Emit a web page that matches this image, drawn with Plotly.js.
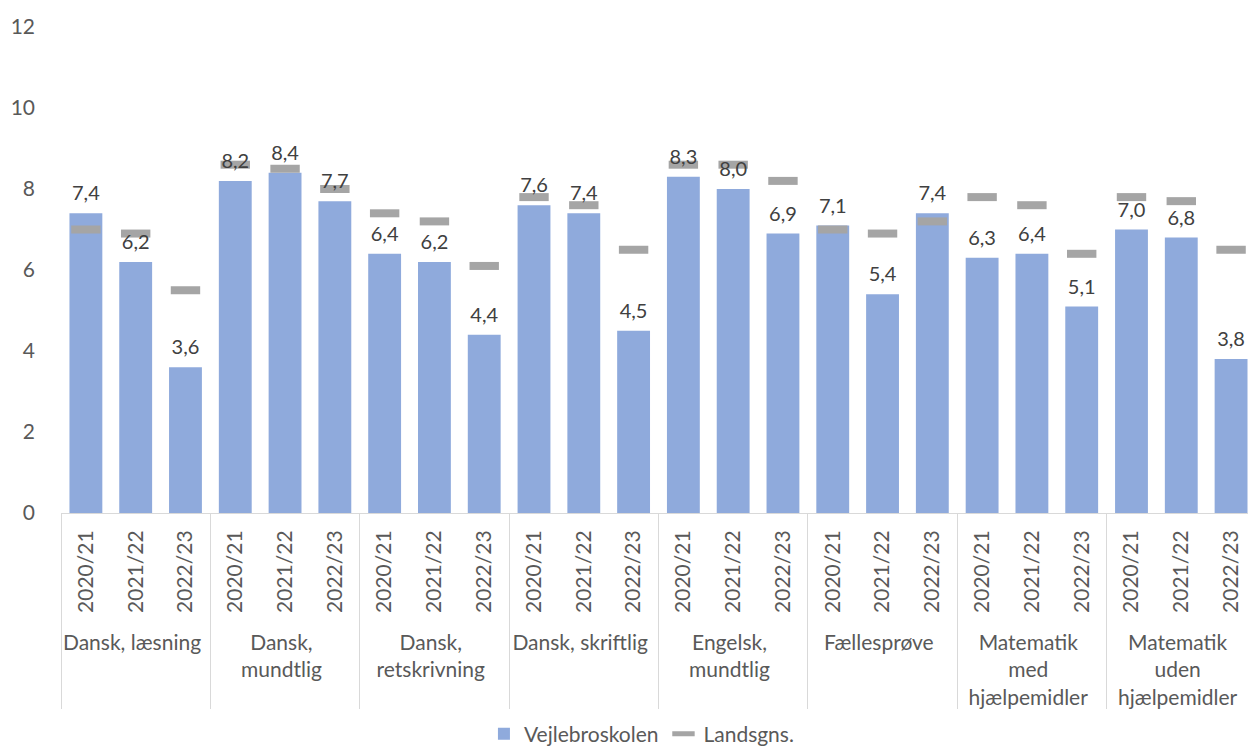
<!DOCTYPE html>
<html>
<head>
<meta charset="utf-8">
<script src="https://cdn.plot.ly/plotly-3.0.1.min.js"></script>
<style>
  html, body { margin: 0; padding: 0; overflow: hidden; background: #fff; }
  #chart { width: 1248px; height: 747px; }
</style>
</head>
<body>
<div id="chart"></div>
<script>
// ---- Data ----
const subjects = [
  "Dansk, læsning",
  "Dansk,<br>mundtlig",
  "Dansk,<br>retskrivning",
  "Dansk, skriftlig",
  "Engelsk,<br>mundtlig",
  "Fællesprøve",
  "Matematik<br>med<br>hjælpemidler",
  "Matematik<br>uden<br>hjælpemidler"
];
const years = ["2020/21", "2021/22", "2022/23"];

// Vejlebroskolen (bars), per subject x year
const vejlebroskolen = [
  7.4, 6.2, 3.6,
  8.2, 8.4, 7.7,
  6.4, 6.2, 4.4,
  7.6, 7.4, 4.5,
  8.3, 8.0, 6.9,
  7.1, 5.4, 7.4,
  6.3, 6.4, 5.1,
  7.0, 6.8, 3.8
];

// Landsgennemsnit (grey dash markers)
const landsgns = [
  7.0, 6.9, 5.5,
  8.6, 8.5, 8.0,
  7.4, 7.2, 6.1,
  7.8, 7.6, 6.5,
  8.6, 8.6, 8.2,
  7.0, 6.9, 7.2,
  7.8, 7.6, 6.4,
  7.8, 7.7, 6.5
];

// ---- Build multicategory x ----
const NB = '\u00a0'; // small lead so the group row sits a little lower
const xOuter = [], xInner = [];
subjects.forEach(s => years.forEach(y => { xOuter.push(s); xInner.push(NB + y); }));
const labels = vejlebroskolen.map(v => v.toFixed(1).replace('.', ','));

const FONT = 'Lato, "Open Sans", sans-serif';
const TXT = '#595959';

const traces = [
  {
    type: 'bar',
    name: 'Vejlebroskolen',
    x: [xOuter, xInner],
    y: vejlebroskolen,
    marker: { color: '#8FAADC' },
    hoverinfo: 'skip'
  },
  {
    type: 'scatter',
    mode: 'markers',
    name: 'Landsgns.',
    x: [xOuter, xInner],
    y: landsgns,
    marker: {
      symbol: 'line-ew',
      size: 21,
      color: '#A5A5A5',
      line: { color: '#A5A5A5', width: 8 }
    },
    cliponaxis: false,
    hoverinfo: 'skip'
  },
  {
    // data labels for the bars
    type: 'scatter',
    mode: 'markers+text',
    name: 'labels',
    showlegend: false,
    x: [xOuter, xInner],
    y: vejlebroskolen,
    text: labels,
    textposition: 'top center',
    textfont: { family: FONT, size: 20, color: '#404040' },
    marker: { size: 11, opacity: 0 },
    cliponaxis: false,
    hoverinfo: 'skip'
  }
];

const layout = {
  width: 1248,
  height: 747,
  margin: { l: 61, r: 0, t: 27, b: 234, autoexpand: false },
  paper_bgcolor: '#ffffff',
  plot_bgcolor: '#ffffff',
  font: { family: FONT, color: TXT },
  bargap: 0.34,
  showlegend: true,
  legend: {
    orientation: 'h',
    x: 0.489, xanchor: 'center',
    y: -0.455, yanchor: 'middle',
    font: { family: FONT, size: 21, color: TXT },
    traceorder: 'normal'
  },
  xaxis: {
    type: 'multicategory',
    range: [-0.5, 23.34],
    automargin: false,
    tickangle: -90,
    tickfont: { family: FONT, size: 21, color: TXT },
    ticklabelstandoff: 8,
    showline: true,
    linecolor: '#D9D9D9',
    linewidth: 1,
    ticks: '',
    showgrid: false,
    showdividers: true,
    dividercolor: '#D9D9D9',
    dividerwidth: 1,
    fixedrange: true
  },
  yaxis: {
    range: [0, 12],
    dtick: 2,
    tick0: 0,
    automargin: false,
    showgrid: false,
    zeroline: false,
    showline: false,
    ticks: '',
    ticklabelstandoff: 25,
    tickfont: { family: FONT, size: 21, color: TXT },
    fixedrange: true
  }
};

Plotly.newPlot('chart', traces, layout, { displayModeBar: false, staticPlot: true });
</script>
</body>
</html>
